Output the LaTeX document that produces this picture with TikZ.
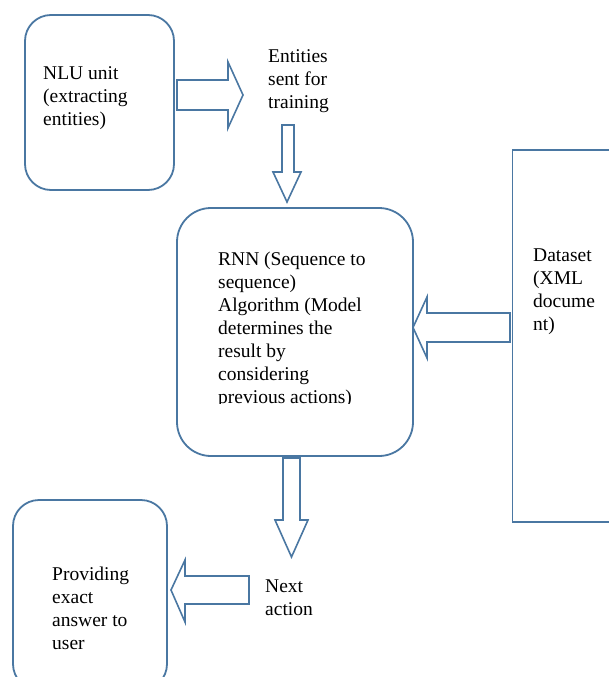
\documentclass[tikz,border=0pt]{standalone}
\usepackage{fontspec}
\setmainfont{Liberation Serif}
\definecolor{outline}{HTML}{4A77A2}
\begin{document}
\begin{tikzpicture}[x=1pt,y=-1pt,
  box/.style={draw=outline,line width=1.8pt,rounded corners=#1},
  blockarrow/.style={draw=outline,line width=1.6pt,line join=miter,fill=white},
  txt/.style={anchor=north west,inner sep=0pt,align=left,font=\fontsize{19.5}{23}\selectfont}]
\useasboundingbox (0,0) rectangle (609,677);
\clip (0,0) rectangle (609,677);
% boxes
\draw[box=26pt] (25,15) rectangle (174,190);
\coordinate (nlu) at (25,15);
\draw[box=34pt] (177,208) rectangle (413,456);
\draw[draw=outline,line width=1.8pt] (512.5,150) rectangle (640,522);
\draw[box=26pt] (13,500) rectangle (167,690);
% texts (first baseline = top + 16.1)
\node[txt] (nlutxt) at (43,63.4) {\strut NLU unit\\(extracting\\entities)};
\node[txt] (enttxt) at (268,46.4) {\strut Entities\\sent for\\training};
\begin{scope}
\clip (150,200) rectangle (450,403.8);
\node[txt] (rnntxt) at (218,248.9) {\strut RNN (Sequence to\\sequence)\\Algorithm (Model\\determines the\\result by\\considering\\previous actions)};
\end{scope}
\node[txt] (datatxt) at (533,244.9) {\strut Dataset\\(XML\\docume\\nt)};
\node[txt] (nexttxt) at (265,575.9) {\strut Next\\action};
\node[txt] (provtxt) at (52,563.9) {\strut Providing\\exact\\answer to\\user};
% block arrows
% right arrow NLU -> Entities
\draw[blockarrow] (177,80) -- (228,80) -- (228,62) -- (243,95) -- (228,128) -- (228,110) -- (177,110) -- cycle;
% down arrow Entities -> RNN
\draw[blockarrow] (282,125) -- (294,125) -- (294,172) -- (301,172) -- (287,202) -- (273,172) -- (282,172) -- cycle;
% left arrow Dataset -> RNN
\draw[blockarrow] (510,313) -- (427,313) -- (427,297) -- (413,327.5) -- (427,358) -- (427,342) -- (510,342) -- cycle;
% down arrow RNN -> Next action
\draw[blockarrow] (283,458) -- (300,458) -- (300,520) -- (308,520) -- (291.5,557) -- (275,520) -- (283,520) -- cycle;
% left arrow Next action -> Providing
\draw[blockarrow] (249,576) -- (185,576) -- (185,560) -- (171,590) -- (185,622) -- (185,604) -- (249,604) -- cycle;
\end{tikzpicture}
\end{document}
